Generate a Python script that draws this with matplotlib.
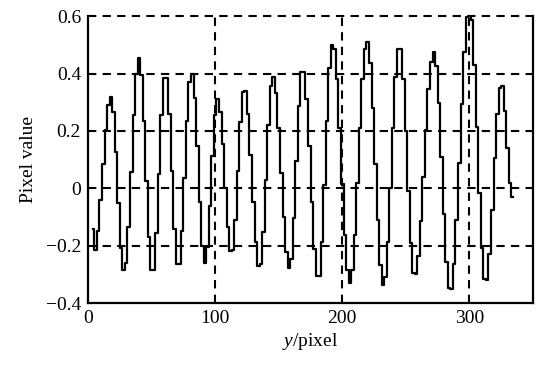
import matplotlib.pyplot as plt
import numpy as np
from matplotlib.ticker import FixedLocator, FuncFormatter

plt.rcParams['font.family'] = ['Liberation Serif', 'DejaVu Serif']
plt.rcParams['mathtext.fontset'] = 'custom'
plt.rcParams['mathtext.it'] = 'Liberation Serif:italic'
plt.rcParams['mathtext.rm'] = 'Liberation Serif'

# sample positions (every 2 pixels, starting at 4)
pos = np.arange(4, 336, 2)

# pixel values
vals = [
    -0.14, -0.215, -0.148, -0.04, 0.085, 0.205, 0.29, 0.32,          # 4-18
    0.267, 0.125, -0.052, -0.208, -0.285,                              # 20-28
    -0.26, -0.133, 0.056, 0.254, 0.40, 0.455,                          # 30-40
    0.395, 0.236, 0.025, -0.168, -0.285,                               # 42-50
    -0.283, -0.157, 0.05, 0.257, 0.383,                                # 52-60
    0.384, 0.26, 0.06, -0.14, -0.264,                                  # 62-70
    -0.265, -0.15, 0.037, 0.234, 0.37, 0.40,                           # 72-82
    0.315, 0.146, -0.047, -0.202, -0.26,                               # 84-92
    -0.206, -0.063, 0.113, 0.256, 0.31,                                # 94-102
    0.267, 0.153, 0.002, -0.136, -0.219,                               # 104-112
    -0.216, -0.111, 0.06, 0.231, 0.336,                                # 114-122
    0.339, 0.258, 0.117, -0.047, -0.188, -0.27,                        # 124-134
    -0.265, -0.153, 0.028, 0.222, 0.357, 0.388,                        # 136-146
    0.332, 0.209, 0.055, -0.099, -0.222, -0.278,                       # 148-158
    -0.245, -0.105, 0.096, 0.287, 0.405,                               # 160-168
    0.407, 0.312, 0.146, -0.046, -0.212, -0.307,                       # 170-180
    -0.304, -0.187, 0.012, 0.234, 0.419, 0.50,                         # 182-192
    0.485, 0.38, 0.212, 0.014, -0.162, -0.285, -0.33,                  # 194-206
    -0.285, -0.162, 0.017, 0.212, 0.38, 0.485, 0.51,                   # 208-220
    0.436, 0.28, 0.085, -0.11, -0.266, -0.338,                         # 222-232
    -0.31, -0.188, 0.0, 0.21, 0.387, 0.487,                            # 234-244
    0.486, 0.382, 0.20, -0.01, -0.192, -0.296,                         # 246-256
    -0.30, -0.235, -0.114, 0.041, 0.204, 0.345, 0.441, 0.475,          # 258-272
    0.428, 0.296, 0.108, -0.089, -0.256, -0.347,                       # 274-284
    -0.349, -0.265, -0.11, 0.088, 0.295, 0.475, 0.597, 0.64,           # 286-300
    0.586, 0.43, 0.213, -0.015, -0.209, -0.315,                        # 302-312
    -0.318, -0.229, -0.075, 0.105, 0.259, 0.348, 0.355,                # 314-326
    0.27, 0.14, 0.02, -0.03,                                           # 328-334
]

xticks = [0, 100, 200, 300]
yticks = [-0.4, -0.2, 0, 0.2, 0.4, 0.6]

fig = plt.figure(figsize=(5.4, 3.67), dpi=100)
ax = fig.add_axes([0.163, 0.174, 0.824, 0.782])

ax.plot(pos, vals, color='black', lw=1.6, drawstyle='steps-mid', zorder=3)

ax.set_xlim(0, 350)
ax.set_ylim(-0.4, 0.6)
ax.xaxis.set_major_locator(FixedLocator(xticks))
ax.yaxis.set_major_locator(FixedLocator(yticks))


def yfmt(v, p):
    if abs(v) < 1e-9:
        return '0'
    return f'{v:.1f}'.replace('-', '\u2212')


ax.yaxis.set_major_formatter(FuncFormatter(yfmt))
ax.tick_params(length=0, labelsize=14, pad=5)

# dashed grid lines (skip the ones sitting on the spines)
for xv in xticks[1:]:
    ax.axvline(xv, color='black', lw=1.5, ls=(0, (4, 3)), zorder=2)
for yv in yticks[1:]:
    ax.axhline(yv, color='black', lw=1.5, ls=(0, (4, 3)), zorder=2, clip_on=False)

ax.spines['top'].set_visible(False)
for s in ['left', 'bottom', 'right']:
    ax.spines[s].set_linewidth(1.6)

ax.set_xlabel(r'$\mathit{y}$/pixel', fontsize=14, labelpad=3)
ax.set_ylabel('Pixel value', fontsize=14, labelpad=6)

fig.savefig('out.png', dpi=100)
